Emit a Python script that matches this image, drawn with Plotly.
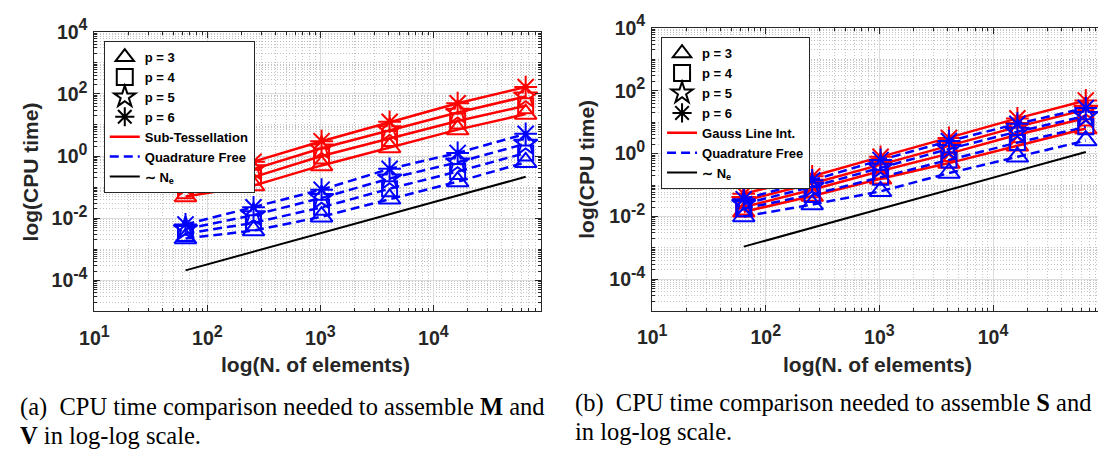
import plotly.graph_objects as go

W, H = 1098, 451

# ---------------- data ----------------
N_elements = [64, 256, 1024, 4096, 16384, 65536]
p_labels = ["p = 3", "p = 4", "p = 5", "p = 6"]

# (a) CPU time to assemble M and V
a_subtess_p3 = [0.050, 0.112, 0.50, 1.9, 7.1, 22.4]
a_subtess_p4 = [0.076, 0.21, 1.0, 3.7, 13.5, 41.7]
a_subtess_p5 = [0.112, 0.38, 1.78, 6.8, 25.1, 83.0]
a_subtess_p6 = [0.178, 0.66, 3.0, 12.6, 50.0, 166.0]
a_qf_p3 = [0.00224, 0.0040, 0.0112, 0.042, 0.151, 0.63]
a_qf_p4 = [0.0032, 0.0071, 0.0224, 0.089, 0.32, 1.26]
a_qf_p5 = [0.0045, 0.0126, 0.045, 0.19, 0.63, 2.5]
a_qf_p6 = [0.0063, 0.0224, 0.083, 0.39, 1.26, 5.2]
a_ref_Ne = [2.1e-4, 8.4e-4, 3.36e-3, 1.34e-2, 5.4e-2, 0.215]

# (b) CPU time to assemble S and ...
b_gauss_p3 = [0.0141, 0.0447, 0.158, 0.50, 1.78, 6.3]
b_gauss_p4 = [0.020, 0.071, 0.28, 1.0, 4.0, 13.5]
b_gauss_p5 = [0.0316, 0.112, 0.447, 1.78, 7.1, 25.1]
b_gauss_p6 = [0.0525, 0.19, 0.79, 3.16, 13.2, 49.0]
b_qf_p3 = [0.010, 0.024, 0.063, 0.24, 0.79, 2.6]
b_qf_p4 = [0.0178, 0.050, 0.178, 0.63, 2.24, 7.1]
b_qf_p5 = [0.025, 0.089, 0.355, 1.41, 5.0, 15.8]
b_qf_p6 = [0.0355, 0.141, 0.63, 2.5, 8.9, 28.2]
b_ref_Ne = [1.1e-3, 4.4e-3, 1.76e-2, 7.0e-2, 0.28, 1.13]

x_tickvals = [10, 100, 1000, 10000]
x_tickexp = ["1", "2", "3", "4"]
y_tickvals = [1e-4, 1e-2, 1, 1e2, 1e4]
y_tickexp = ["-4", "-2", "0", "2", "4"]

# ---------------- styles ----------------
RED = "rgb(255,0,0)"
BLUE = "rgb(0,0,255)"
AXC = "#262626"
symbols = ["triangle-up-open", "square-open", "star-open", "asterisk-open"]
msizes = [19, 15, 18, 19]
SANS = "Liberation Sans"
SERIF = "Liberation Serif"
QF_DASH = "9px,5px"


def power_label(e):
    return "10<sup><span style='font-size:16px'>" + e + "</span></sup>"


x_ticktext = [power_label(e) for e in x_tickexp]
y_ticktext = [power_label(e) for e in y_tickexp]

fig = go.Figure()


def legend_dummies(leg, xa, ya, red_name):
    for lab, sym in zip(p_labels, symbols):
        fig.add_trace(go.Scatter(
            x=[None], y=[None], mode="markers", name=lab, legend=leg,
            xaxis=xa, yaxis=ya,
            marker=dict(symbol=sym, size=16, color="black",
                        line=dict(color="black", width=2))))
    fig.add_trace(go.Scatter(x=[None], y=[None], mode="lines", name=red_name,
                             legend=leg, xaxis=xa, yaxis=ya,
                             line=dict(color=RED, width=2.5)))
    fig.add_trace(go.Scatter(x=[None], y=[None], mode="lines", name="Quadrature Free",
                             legend=leg, xaxis=xa, yaxis=ya,
                             line=dict(color=BLUE, width=2.5, dash=QF_DASH)))


def series(ys, color, dash, sym, ms, xa, ya):
    fig.add_trace(go.Scatter(
        x=N_elements, y=ys, mode="lines+markers", showlegend=False,
        xaxis=xa, yaxis=ya,
        line=dict(color=color, width=2.5, dash=dash),
        marker=dict(symbol=sym, size=ms, color=color,
                    line=dict(color=color, width=2))))


# ---- subplot (a)
legend_dummies("legend", "x", "y", "Sub-Tessellation")
for ys, sym, ms in zip([a_subtess_p3, a_subtess_p4, a_subtess_p5, a_subtess_p6], symbols, msizes):
    series(ys, RED, "solid", sym, ms, "x", "y")
for ys, sym, ms in zip([a_qf_p3, a_qf_p4, a_qf_p5, a_qf_p6], symbols, msizes):
    series(ys, BLUE, QF_DASH, sym, ms, "x", "y")
fig.add_trace(go.Scatter(x=N_elements, y=a_ref_Ne, mode="lines", name="∼ N<sub>e</sub>",
                         legend="legend", xaxis="x", yaxis="y",
                         line=dict(color="black", width=2)))

# ---- subplot (b)
legend_dummies("legend2", "x2", "y2", "Gauss Line Int.")
for ys, sym, ms in zip([b_gauss_p3, b_gauss_p4, b_gauss_p5, b_gauss_p6], symbols, msizes):
    series(ys, RED, "solid", sym, ms, "x2", "y2")
for ys, sym, ms in zip([b_qf_p3, b_qf_p4, b_qf_p5, b_qf_p6], symbols, msizes):
    series(ys, BLUE, QF_DASH, sym, ms, "x2", "y2")
fig.add_trace(go.Scatter(x=N_elements, y=b_ref_Ne, mode="lines", name="∼ N<sub>e</sub>",
                         legend="legend2", xaxis="x2", yaxis="y2",
                         line=dict(color="black", width=2)))

# minor ticks
minor_x = [d * 10 ** k for k in range(1, 5) for d in range(2, 10)]
minor_y = [d * 10.0 ** k for k in range(-5, 4) for d in range(1, 10)]
minor_y = [v for v in minor_y if v not in y_tickvals]

tickfont = dict(family=SANS, size=19.5, color=AXC, weight="bold")


def xaxis_cfg(domain, rng):
    return dict(type="log", domain=domain, range=rng, tickvals=x_tickvals,
                ticktext=x_ticktext, tickfont=tickfont, ticks="inside", ticklen=6,
                tickcolor=AXC, showline=True, linecolor=AXC, linewidth=1,
                mirror="ticks", showgrid=True, gridcolor="#dcdcdc", gridwidth=1,
                zeroline=False, ticklabelstandoff=9,
                minor=dict(tickvals=minor_x, ticks="inside", ticklen=3, tickcolor=AXC,
                           showgrid=True, gridcolor="#c4c4c4", griddash="1px,2px",
                           gridwidth=1))


def yaxis_cfg(domain, anchor, mirror):
    return dict(type="log", domain=domain, range=[-5, 4], anchor=anchor,
                tickvals=y_tickvals, ticktext=y_ticktext, tickfont=tickfont,
                ticks="inside", ticklen=6, tickcolor=AXC, showline=True,
                linecolor=AXC, linewidth=1, mirror=mirror, showgrid=True,
                gridcolor="#dcdcdc", gridwidth=1, zeroline=False, ticklabelstandoff=2,
                minor=dict(tickvals=minor_y, ticks="inside", ticklen=3, tickcolor=AXC,
                           showgrid=True, gridcolor="#c4c4c4", griddash="1px,2px",
                           gridwidth=1))


legfont = dict(family=SANS, size=13, color="black", weight="bold")

fig.update_layout(
    width=W, height=H, margin=dict(l=0, r=0, t=0, b=0, pad=0),
    paper_bgcolor="white", plot_bgcolor="white", showlegend=True,
    xaxis=xaxis_cfg([80.5 / W, 533.5 / W], [1, 4.954]) | dict(anchor="y"),
    yaxis=yaxis_cfg([1 - 306.7 / H, 1 - 17.3 / H], "x", "ticks"),
    xaxis2=xaxis_cfg([646 / W, 1.0], [1, 4.924]) | dict(anchor="y2"),
    yaxis2=yaxis_cfg([1 - 306 / H, 1 - 13.3 / H], "x2", False),
    legend=dict(x=90 / W, y=1 - 27 / H, xanchor="left", yanchor="top",
                bgcolor="white", bordercolor=AXC, borderwidth=1, font=legfont,
                tracegroupgap=0, itemwidth=30),
    legend2=dict(x=655 / W, y=1 - 23 / H, xanchor="left", yanchor="top",
                 bgcolor="white", bordercolor=AXC, borderwidth=1, font=legfont,
                 tracegroupgap=0, itemwidth=30),
)

titlefont = dict(family=SANS, size=21, color=AXC, weight="bold")
ann = [
    dict(text="log(CPU time)", x=16 / W, y=1 - 162 / H, textangle=-90, font=titlefont),
    dict(text="log(CPU time)", x=580 / W, y=1 - 160 / H, textangle=-90, font=titlefont),
    dict(text="log(N. of elements)", x=305 / W, y=1 - 362 / H, font=titlefont),
    dict(text="log(N. of elements)", x=874 / W, y=1 - 362 / H, font=titlefont),
]
capfont = dict(family=SERIF, size=24.5, color="black")
ann += [
    dict(text="(a)\u00a0\u00a0CPU time comparison needed to assemble <b>M</b> and",
         x=3 / W, y=1 - 406 / H, xanchor="left", font=capfont),
    dict(text="<b>V</b> in log-log scale.", x=3 / W, y=1 - 435 / H, xanchor="left", font=capfont),
    dict(text="(b)\u00a0\u00a0CPU time comparison needed to assemble <b>S</b> and",
         x=566 / W, y=1 - 401 / H, xanchor="left", font=capfont),
    dict(text="in log-log scale.", x=566 / W, y=1 - 431 / H, xanchor="left", font=capfont),
]
for a in ann:
    a.setdefault("xanchor", "center")
    a.update(xref="paper", yref="paper", yanchor="middle", showarrow=False)
fig.update_layout(annotations=ann)

fig.write_html("out.html")
